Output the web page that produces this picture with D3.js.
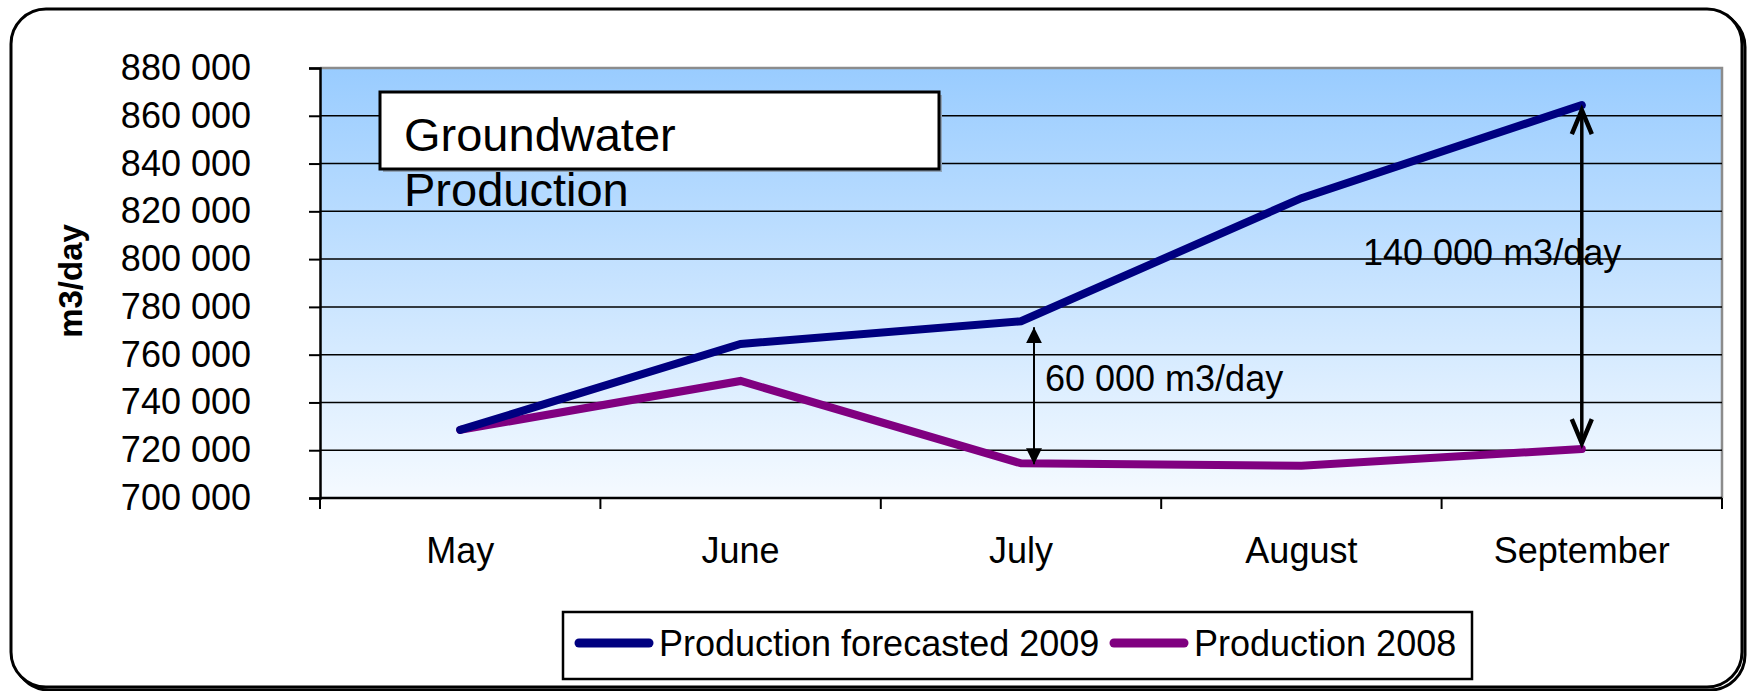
<!DOCTYPE html>
<html>
<head>
<meta charset="utf-8">
<script src="https://cdn.jsdelivr.net/npm/d3@7"></script>
<style>
  body { margin: 0; background: #ffffff; }
  svg text { font-family: "Liberation Sans", Arial, sans-serif; }
</style>
</head>
<body>
<svg id="chart_svg" width="1749" height="691"></svg>
<script>
// data
var months = ["May", "June", "July", "August", "September"]
var forecast_2009 = [728500, 764500, 774000, 825500, 864500]
var production_2008 = [728500, 749000, 714500, 713500, 720500]
var y_ticks = [700000, 720000, 740000, 760000, 780000, 800000, 820000, 840000, 860000, 880000]
var series_names = ["Production forecasted 2009", "Production 2008"]
var series_colors = ["#000080", "#800080"]
var diff_notes = [
    {month: "July", label: "60 000 m3/day"},
    {month: "September", label: "140 000 m3/day"}
]

var svg = d3.select("#chart_svg")
var plot_left = 320, plot_right = 1722, plot_top = 68, plot_bottom = 498

var x = d3.scaleBand().domain(months).range([plot_left, plot_right])
var y = d3.scaleLinear().domain([700000, 880000]).range([plot_bottom, plot_top])
var fmt = function(v){ return d3.format(",")(v).replace(/,/g, " ") }

// outer frame with shadow
svg.append("rect")
    .attr("x", 14).attr("y", 12).attr("width", 1731).attr("height", 678)
    .attr("rx", 35).attr("ry", 35)
    .attr("fill", "none").attr("stroke", "#000").attr("stroke-width", 3)
svg.append("rect")
    .attr("x", 11).attr("y", 9).attr("width", 1731).attr("height", 678)
    .attr("rx", 35).attr("ry", 35)
    .attr("fill", "#fff").attr("stroke", "#000").attr("stroke-width", 3)

// plot background gradient
var grad = svg.append("defs").append("linearGradient")
    .attr("id", "plot_bg").attr("x1", 0).attr("y1", 0).attr("x2", 0).attr("y2", 1)
grad.append("stop").attr("offset", "0%").attr("stop-color", "#99ccff")
grad.append("stop").attr("offset", "100%").attr("stop-color", "#f5faff")

svg.append("rect")
    .attr("x", plot_left).attr("y", plot_top)
    .attr("width", plot_right - plot_left).attr("height", plot_bottom - plot_top)
    .attr("fill", "url(#plot_bg)")

// gray border top and right
svg.append("path")
    .attr("d", "M" + plot_left + "," + plot_top + "H" + plot_right + "V" + plot_bottom)
    .attr("fill", "none").attr("stroke", "#8c8c8c").attr("stroke-width", 2.5)

// gridlines
svg.append("g").selectAll("line")
    .data(y_ticks.slice(1, -1))
    .enter().append("line")
    .attr("x1", plot_left).attr("x2", plot_right)
    .attr("y1", function(d){ return y(d) }).attr("y2", function(d){ return y(d) })
    .attr("stroke", "#000").attr("stroke-width", 1.5)

// y axis
var y_axis = svg.append("g")
    .attr("transform", "translate(" + plot_left + ",0)")
    .call(d3.axisLeft(y).tickValues(y_ticks).tickFormat(fmt).tickSize(11).tickPadding(58))
y_axis.select(".domain").attr("stroke-width", 2.5)
y_axis.selectAll(".tick line").attr("stroke-width", 2)
y_axis.selectAll("text").attr("font-size", 36).attr("fill", "#000")
    .style("font-family", "'Liberation Sans', Arial, sans-serif")

// x axis: ticks between categories
var x_axis = svg.append("g")
    .attr("transform", "translate(0," + plot_bottom + ")")
x_axis.append("line")
    .attr("x1", plot_left).attr("x2", plot_right)
    .attr("stroke", "#000").attr("stroke-width", 2.5)
x_axis.selectAll(".sep").data(months.concat(["end"]))
    .enter().append("line")
    .attr("class", "sep")
    .attr("x1", function(d, i){ return plot_left + i * x.bandwidth() })
    .attr("x2", function(d, i){ return plot_left + i * x.bandwidth() })
    .attr("y1", 0).attr("y2", 11)
    .attr("stroke", "#000").attr("stroke-width", 2)
x_axis.selectAll(".mlabel").data(months)
    .enter().append("text")
    .attr("x", function(d){ return x(d) + x.bandwidth() / 2 })
    .attr("y", 65)
    .attr("text-anchor", "middle")
    .attr("font-size", 36)
    .text(function(d){ return d })

// y axis title
svg.append("text")
    .attr("transform", "translate(82,281) rotate(-90)")
    .attr("text-anchor", "middle")
    .attr("font-size", 33)
    .attr("font-weight", "bold")
    .text("m3/day")

// title box
svg.append("rect")
    .attr("x", 383).attr("y", 95).attr("width", 559).attr("height", 77)
    .attr("fill", "#8fa3b8")
svg.append("rect")
    .attr("x", 380).attr("y", 92).attr("width", 559).attr("height", 77)
    .attr("fill", "#fff").attr("stroke", "#000").attr("stroke-width", 3)
svg.append("text").attr("x", 404).attr("y", 151).attr("font-size", 47).text("Groundwater")
svg.append("text").attr("x", 404).attr("y", 206).attr("font-size", 47).text("Production")

// series lines
var line = d3.line()
    .x(function(d, i){ return x(months[i]) + x.bandwidth() / 2 })
    .y(function(d){ return y(d) })

var all_series = [forecast_2009, production_2008]
svg.append("g").selectAll("path")
    .data([all_series[1], all_series[0]])
    .enter().append("path")
    .attr("d", line)
    .attr("fill", "none")
    .attr("stroke", function(d, i){ return [series_colors[1], series_colors[0]][i] })
    .attr("stroke-width", 8)
    .attr("stroke-linecap", "round")

// difference arrows
var defs = svg.select("defs")
defs.append("marker")
    .attr("id", "tri_head").attr("viewBox", "0 0 10 10")
    .attr("refX", 10).attr("refY", 5)
    .attr("markerWidth", 8).attr("markerHeight", 11)
    .attr("markerUnits", "strokeWidth")
    .attr("orient", "auto-start-reverse")
    .append("path").attr("d", "M0,0 L10,5 L0,10 Z").attr("fill", "#000")

function month_index(m){ return months.indexOf(m) }

// July arrow (thin, solid heads)
var n1 = diff_notes[0]
var ax1 = x(n1.month) + x.bandwidth() / 2 + 13
svg.append("line")
    .attr("x1", ax1).attr("x2", ax1)
    .attr("y1", y(forecast_2009[month_index(n1.month)]) + 6)
    .attr("y2", y(production_2008[month_index(n1.month)]) + 1)
    .attr("stroke", "#000").attr("stroke-width", 2)
    .attr("marker-start", "url(#tri_head)")
    .attr("marker-end", "url(#tri_head)")
svg.append("text")
    .attr("x", ax1 + 11).attr("y", 391)
    .attr("font-size", 36)
    .text(n1.label)

// September arrow (bold, open heads)
var n2 = diff_notes[1]
var ax2 = x(n2.month) + x.bandwidth() / 2
svg.append("text")
    .attr("x", 1363).attr("y", 265)
    .attr("font-size", 36)
    .text(n2.label)
var top2 = y(forecast_2009[month_index(n2.month)]) + 5
var bot2 = y(production_2008[month_index(n2.month)]) - 6
svg.append("line")
    .attr("x1", ax2).attr("x2", ax2).attr("y1", top2).attr("y2", bot2)
    .attr("stroke", "#000").attr("stroke-width", 3.5)
svg.append("path")
    .attr("d", "M" + (ax2 - 10) + "," + (top2 + 24) + "L" + ax2 + "," + top2 + "L" + (ax2 + 10) + "," + (top2 + 24)
        + "M" + (ax2 - 10) + "," + (bot2 - 24) + "L" + ax2 + "," + bot2 + "L" + (ax2 + 10) + "," + (bot2 - 24))
    .attr("fill", "none").attr("stroke", "#000").attr("stroke-width", 4.5)

// legend
var legend = svg.append("g")
legend.append("rect")
    .attr("x", 563).attr("y", 612).attr("width", 909).attr("height", 67)
    .attr("fill", "#fff").attr("stroke", "#000").attr("stroke-width", 2.5)
var legend_pos = [579, 1114]
var items = legend.selectAll(".item").data(series_names)
    .enter().append("g").attr("class", "item")
    .attr("transform", function(d, i){ return "translate(" + legend_pos[i] + ",643)" })
items.append("line")
    .attr("x1", 0).attr("x2", 70)
    .attr("stroke", function(d, i){ return series_colors[i] })
    .attr("stroke-width", 9).attr("stroke-linecap", "round")
items.append("text")
    .attr("x", 80).attr("y", 13)
    .attr("font-size", 36)
    .text(function(d){ return d })
</script>
</body>
</html>
